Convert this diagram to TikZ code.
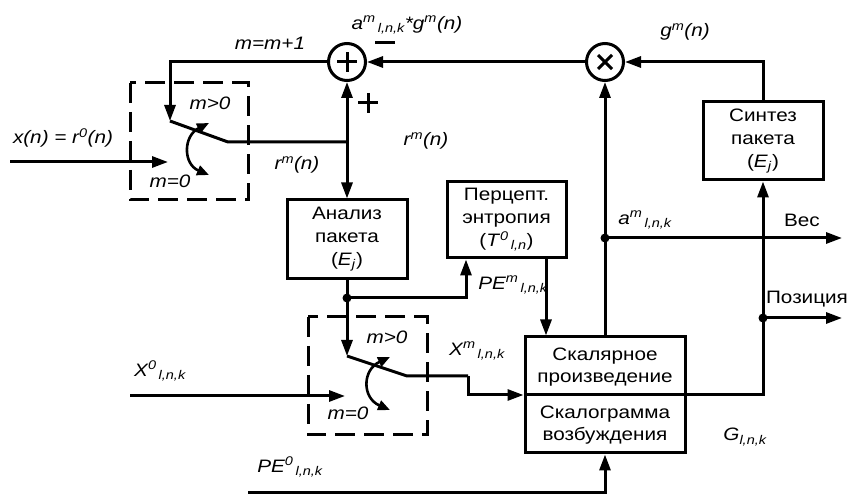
\documentclass[tikz,border=0pt]{standalone}
\usepackage{fontspec}
\setmainfont{Liberation Sans}[FakeStretch=1.15]
\usetikzlibrary{arrows.meta}
\newcommand\SP[1]{\textsuperscript{#1}}
\newcommand\SB[1]{\textsubscript{#1}}
\begin{document}
\begin{tikzpicture}[x=1pt,y=-1pt,line width=3pt,
  >={Triangle[length=16pt,width=11pt]},
  box/.style={draw,rectangle,inner sep=0pt,align=center,font=\fontsize{18}{23}\selectfont},
  btxt/.style={inner sep=0pt,align=center,font=\fontsize{18}{22}\selectfont},
  lab/.style={inner sep=0pt,font=\fontsize{18}{22}\selectfont\itshape},
  sumc/.style={circle,draw,minimum size=37pt,inner sep=0pt},
  dbox/.style={dash pattern=on 20pt off 9pt},
  curv/.style={<->,line width=2.6pt,>={Triangle[length=12pt,width=10pt]}},
  dot/.style={circle,fill,inner sep=0pt,minimum size=9pt}]
\useasboundingbox (0,0) rectangle (847,494);

% summation and multiplication
\node[sumc] (sum) at (347,62) {};
\draw ([xshift=-10pt]sum.center) -- ([xshift=10pt]sum.center);
\draw ([yshift=-10pt]sum.center) -- ([yshift=10pt]sum.center);
\node[sumc] (mul) at (605,62) {};
\draw ([shift={(-7pt,-7pt)}]mul.center) -- ([shift={(7pt,7pt)}]mul.center);
\draw ([shift={(-7pt,7pt)}]mul.center) -- ([shift={(7pt,-7pt)}]mul.center);

% blocks
\node[box,minimum width=120pt,minimum height=79pt] (ana) at (347,239.5) {Анализ\\пакета\\(\textit{E}\SB{\textit{j}})};
\node[box,minimum width=119pt,minimum height=76pt] (perc) at (506.5,220) {Перцепт.\\энтропия\\(\textit{T}\SP{\textit{0}}\SB{\textit{\,l,n}})};
\node[box,minimum width=120pt,minimum height=78pt] (syn) at (763,141) {Синтез\\пакета\\(\textit{E}\SB{\textit{j}})};
\node[draw,rectangle,minimum width=160pt,minimum height=116pt] (sc) at (605,395) {};
\draw (sc.west) -- (sc.east);
\node[btxt] (sc1) at (605,367) {Скалярное\\произведение};
\node[btxt] (sc2) at (605,425) {Скалограмма\\возбуждения};

% first switch
\coordinate (p1) at (170,62);
\coordinate (s1) at (170,121);
\coordinate (s1r) at (228,142);
\coordinate (j1) at (347,142);
\coordinate (in1) at (10,162);
\coordinate (in1e) at (168,162);
\draw[->] (sum.west) -- (p1) -- (s1);
\draw (s1) -- (s1r) -- (j1);
\draw[->] (j1) -- (sum.south);
\draw[->] (j1) -- (ana.north);
\draw[->] (in1) -- (in1e);
\draw[curv] (209,123) .. controls (183,136) and (183,164) .. (209,175);
\draw[dbox] (130,83) rectangle (248,200);

% second switch
\node[dot] (d1) at (347,298) {};
\coordinate (s2) at (347,356);
\coordinate (s2r) at (407,376);
\coordinate (k1) at (468,376);
\coordinate (in2) at (130,396);
\coordinate (in2e) at (345,396);
\draw (ana.south) -- (d1.center);
\draw[->] (d1.center) -- (s2);
\draw (s2) -- (s2r) -- (k1);
\draw[->] (k1) |- (sc.west);
\draw[->] (d1.center) -| ([xshift=-40.5pt]perc.south);
\draw[->] ([xshift=39.5pt]perc.south) -- ([xshift=39.5pt]perc.south |- sc.north);
\draw[->] (in2) -- (in2e);
\draw[curv] (390,357) .. controls (362,370) and (362,398) .. (390,410);
\draw[dbox] (308,317) rectangle (427,435);

% bottom input
\coordinate (pe0) at (248,493);
\draw[->] (pe0) -| (sc.south);

% right part
\node[dot] (d2) at (605,238) {};
\node[dot] (d3) at (763,318) {};
\coordinate (o1) at (842,238);
\coordinate (o2) at (842,318);
\draw[->] (sc.north) -- (mul.south);
\draw[->] (d2.center) -- (o1);
\draw[->] (sc.east) -| (syn.south);
\draw[->] (d3.center) -- (o2);
\draw[->] (syn.north) |- (mul.east);
\draw[->] (mul.west) -- (sum.east);

% signs
\draw (358,103) -- (378,103);
\draw (368,93) -- (368,113);
\draw (375,43) -- (395,43);

% labels
\node[lab] (l1) at (63,138) {x(n) = r\SP{0}(n)};
\node[lab] (l2) at (210,103) {m>0};
\node[lab] (l3) at (170,181) {m=0};
\node[lab] (l4) at (297,165) {r\SP{m}(n)};
\node[lab] (l5) at (426,141) {r\SP{m}(n)};
\node[lab] (l6) at (270,43) {m=m+1};
\node[lab] (l7) at (407,25) {a\SP{m}\SB{\,l,n,k}*g\SP{m}(n)};
\node[lab] (l8) at (685,32) {g\SP{m}(n)};
\node[lab] (l9) at (645,220) {a\SP{m}\SB{\,l,n,k}};
\node[btxt] (l10) at (802,220) {Вес};
\node[btxt] (l11) at (807,299) {Позиция};
\node[lab] (l12) at (513,285) {PE\SP{m}\SB{\,l,n,k}};
\node[lab] (l13) at (477,351) {X\SP{m}\SB{\,l,n,k}};
\node[lab] (l14) at (745,437) {G\SB{l,n,k}};
\node[lab] (l15) at (160,371) {X\SP{0}\SB{\,l,n,k}};
\node[lab] (l16) at (290,467) {PE\SP{0}\SB{\,l,n,k}};
\node[lab] (l17) at (387,337) {m>0};
\node[lab] (l18) at (348,413) {m=0};
\end{tikzpicture}
\end{document}
